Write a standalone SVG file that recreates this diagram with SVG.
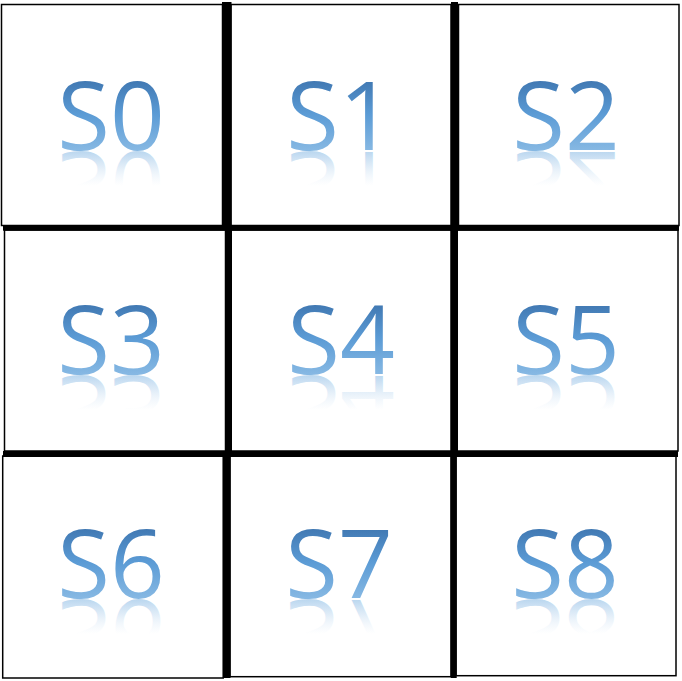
<svg xmlns="http://www.w3.org/2000/svg" width="682" height="681" viewBox="0 0 682 681">
  <defs>
    <linearGradient id="fillGrad" gradientUnits="userSpaceOnUse" x1="0" y1="-72" x2="0" y2="0">
      <stop offset="0" stop-color="#3f76b0"/>
      <stop offset="0.5" stop-color="#5b9bd5"/>
      <stop offset="1" stop-color="#86b8e3"/>
    </linearGradient>
    <linearGradient id="reflGrad" gradientUnits="userSpaceOnUse" x1="0" y1="0" x2="0" y2="-36">
      <stop offset="0" stop-color="#86b8e3" stop-opacity="0.6"/>
      <stop offset="0.6" stop-color="#9cc4e8" stop-opacity="0.2"/>
      <stop offset="1" stop-color="#b8d5ef" stop-opacity="0"/>
    </linearGradient>
  </defs>
  <style>
    .box { fill: #ffffff; stroke: #000000; stroke-width: 1.5; }
    .lbl { font-family: "Open Sans", "Noto Sans", "DejaVu Sans", sans-serif; font-size: 96px; text-anchor: middle; fill: url(#fillGrad); }
    .refl { font-family: "Open Sans", "Noto Sans", "DejaVu Sans", sans-serif; font-size: 96px; text-anchor: middle; fill: url(#reflGrad); }
    .thick { fill: #000000; }
  </style>
  <rect x="0" y="0" width="682" height="681" fill="#ffffff"/>

  <g id="s0">
    <rect class="box" x="1.5" y="4.5" width="221" height="221"/>
    <g transform="translate(111,150)">
      <text class="lbl" x="0" y="0">S0</text>
      <text class="refl" x="0" y="-2" transform="scale(1,-1)">S0</text>
    </g>
  </g>
  <g id="s1">
    <rect class="box" x="231" y="4.5" width="220" height="221"/>
    <g transform="translate(340,150)">
      <text class="lbl" x="0" y="0">S1</text>
      <text class="refl" x="0" y="-2" transform="scale(1,-1)">S1</text>
    </g>
  </g>
  <g id="s2">
    <rect class="box" x="458.5" y="4.5" width="220.5" height="221"/>
    <g transform="translate(566,150)">
      <text class="lbl" x="0" y="0">S2</text>
      <text class="refl" x="0" y="-2" transform="scale(1,-1)">S2</text>
    </g>
  </g>
  <g id="s3">
    <rect class="box" x="4.5" y="230" width="221" height="221"/>
    <g transform="translate(111,374)">
      <text class="lbl" x="0" y="0">S3</text>
      <text class="refl" x="0" y="-2" transform="scale(1,-1)">S3</text>
    </g>
  </g>
  <g id="s4">
    <rect class="box" x="231" y="230" width="220" height="221"/>
    <g transform="translate(341,374)">
      <text class="lbl" x="0" y="0">S4</text>
      <text class="refl" x="0" y="-2" transform="scale(1,-1)">S4</text>
    </g>
  </g>
  <g id="s5">
    <rect class="box" x="457" y="230" width="221" height="221"/>
    <g transform="translate(566,374)">
      <text class="lbl" x="0" y="0">S5</text>
      <text class="refl" x="0" y="-2" transform="scale(1,-1)">S5</text>
    </g>
  </g>
  <g id="s6">
    <rect class="box" x="2.7" y="456" width="220.5" height="222"/>
    <g transform="translate(111,598)">
      <text class="lbl" x="0" y="0">S6</text>
      <text class="refl" x="0" y="-2" transform="scale(1,-1)">S6</text>
    </g>
  </g>
  <g id="s7">
    <rect class="box" x="230" y="456" width="221" height="220.7"/>
    <g transform="translate(339,598)">
      <text class="lbl" x="0" y="0">S7</text>
      <text class="refl" x="0" y="-2" transform="scale(1,-1)">S7</text>
    </g>
  </g>
  <g id="s8">
    <rect class="box" x="456" y="456" width="220" height="219.7"/>
    <g transform="translate(565,598)">
      <text class="lbl" x="0" y="0">S8</text>
      <text class="refl" x="0" y="-2" transform="scale(1,-1)">S8</text>
    </g>
  </g>

  <g id="grid-lines">
    <rect class="thick" x="222" y="2" width="9.5" height="226"/>
    <rect class="thick" x="225" y="226" width="7" height="228"/>
    <rect class="thick" x="223" y="454" width="7.5" height="224"/>
    <rect class="thick" x="451" y="2" width="7" height="226"/>
    <rect class="thick" x="451" y="226" width="7" height="228"/>
    <rect class="thick" x="450.7" y="454" width="6" height="224"/>
    <rect class="thick" x="3" y="225" width="676" height="5.7"/>
    <rect class="thick" x="3" y="451" width="675" height="6"/>
  </g>
</svg>
